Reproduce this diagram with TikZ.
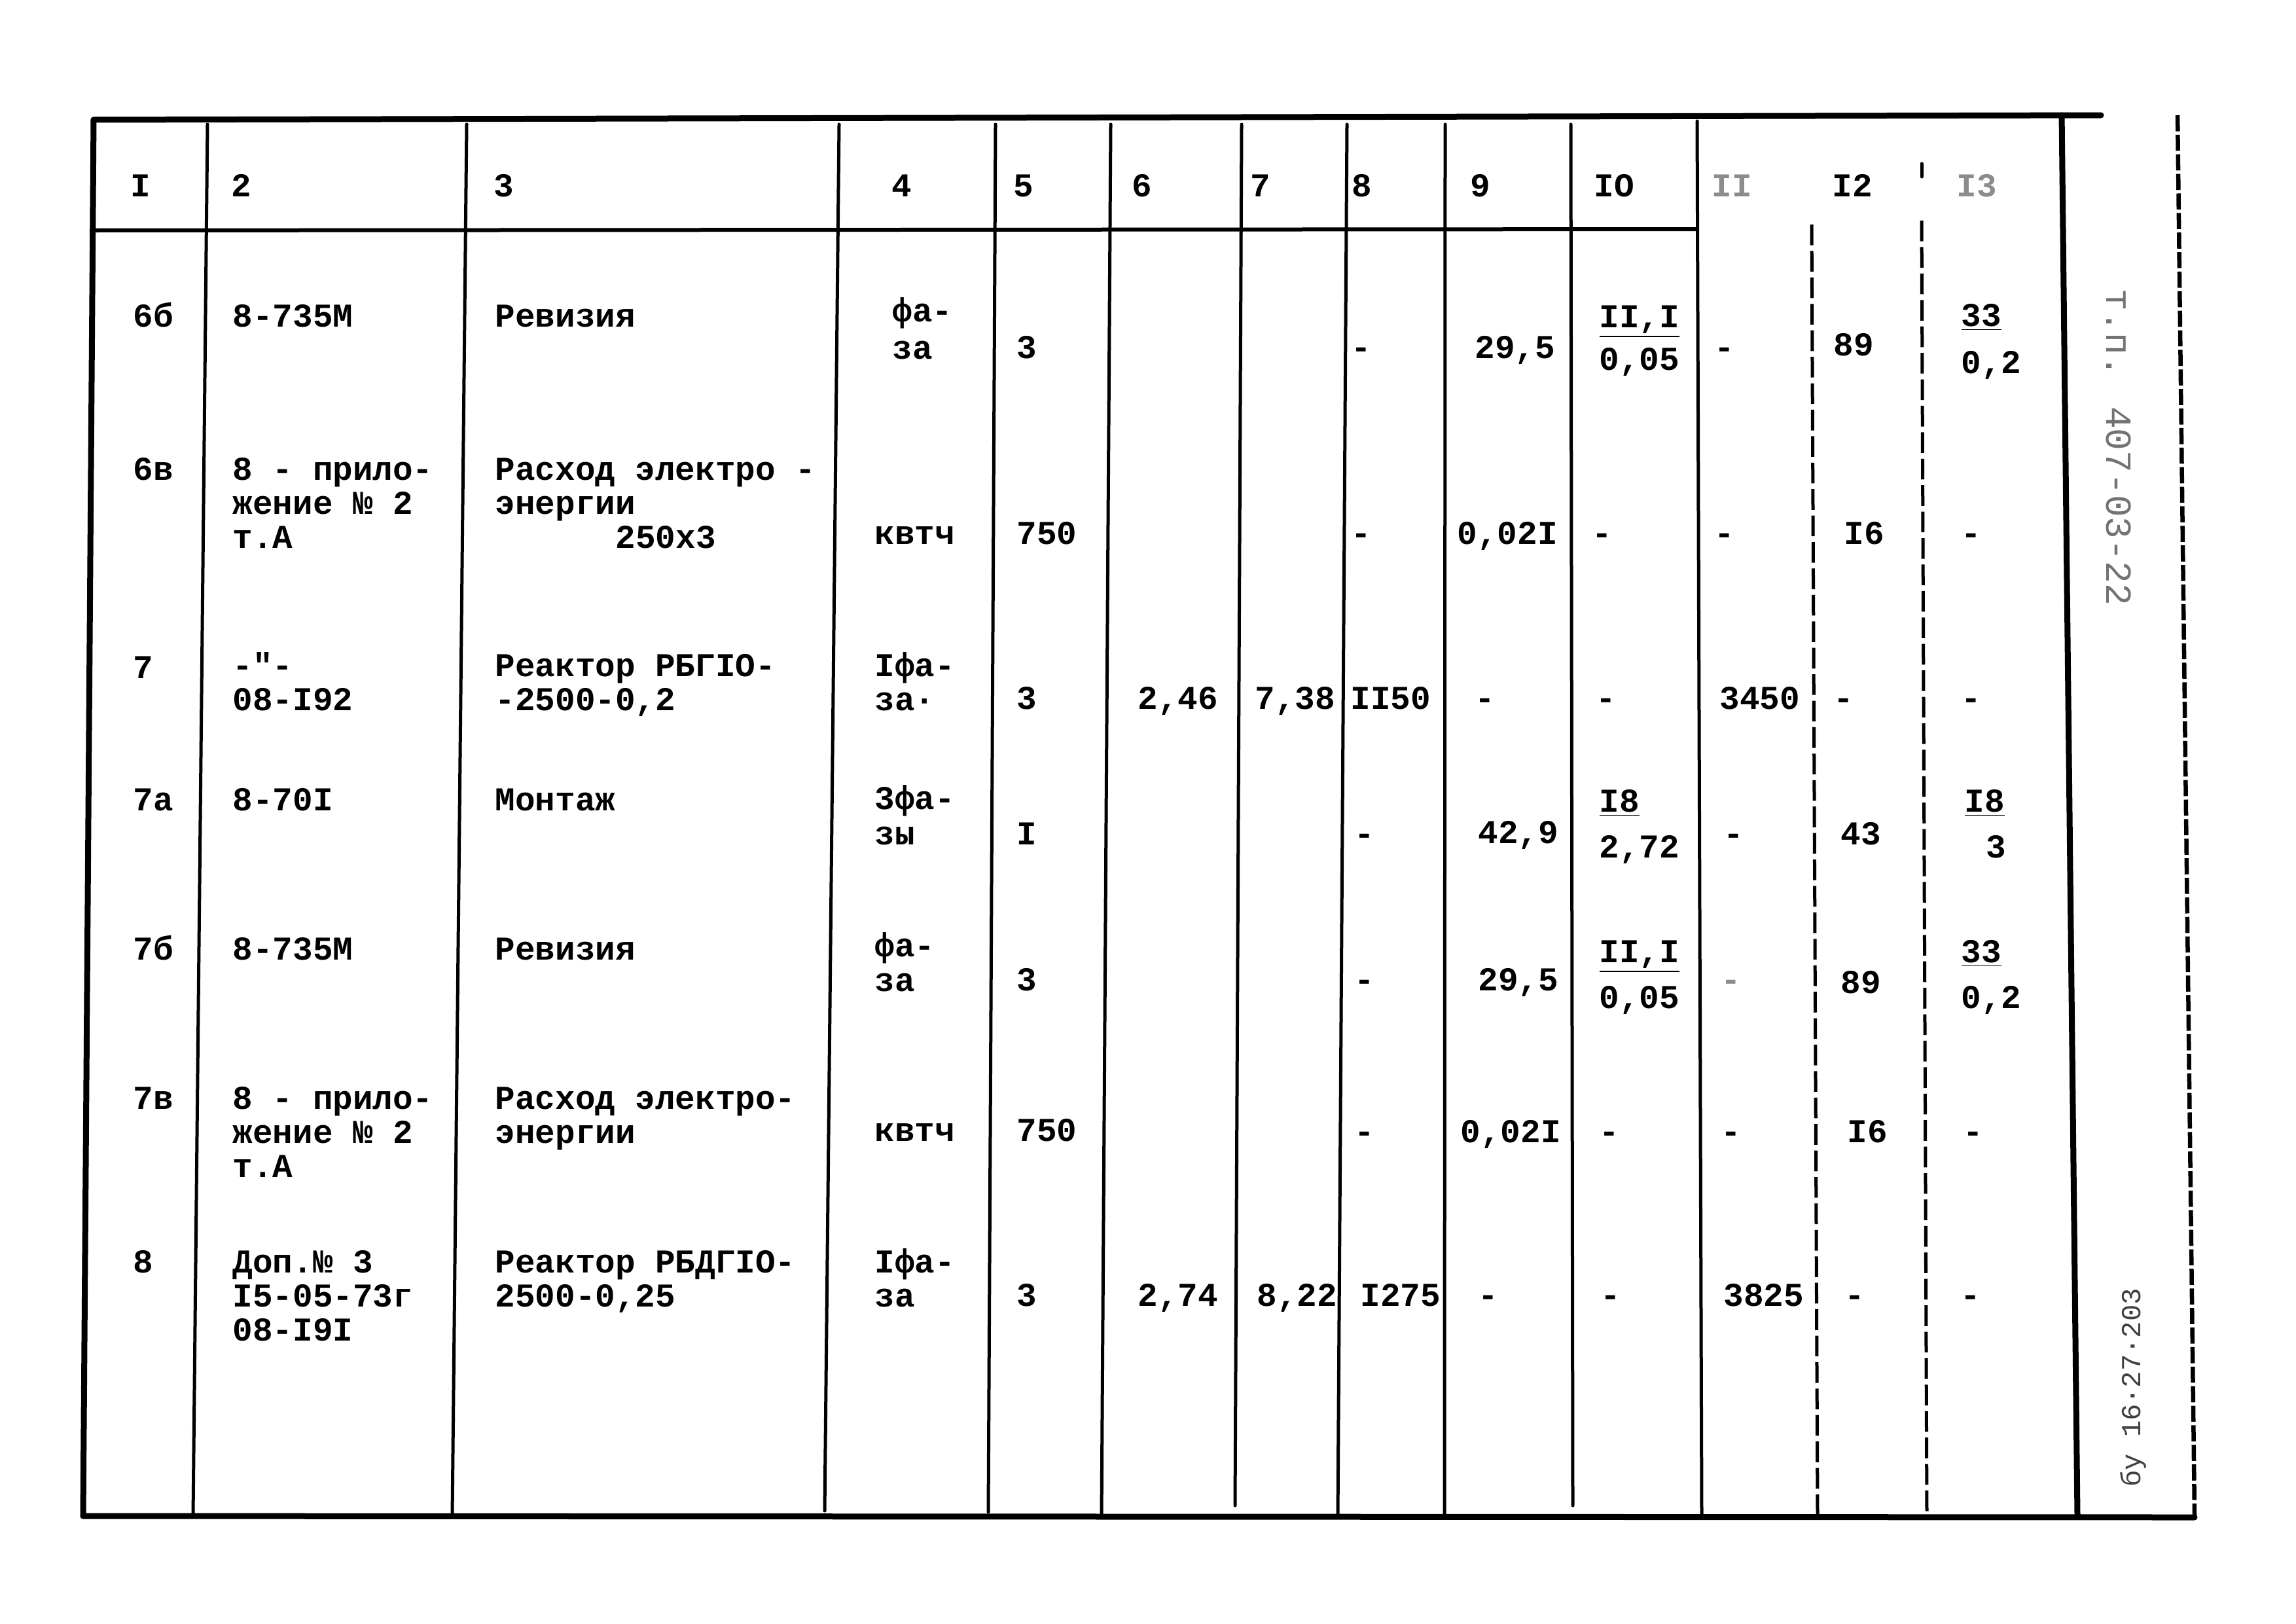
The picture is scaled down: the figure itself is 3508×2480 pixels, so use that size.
\documentclass[tikz,border=0pt]{standalone}
\usepackage{fontspec}
\newfontfamily\tw{Liberation Mono Bold}
\newfontfamily\twr{Liberation Mono}
\tikzset{
  txt/.style={anchor=base west, inner sep=0pt, font=\tw\fontsize{14.5}{15}\selectfont},
  ctxt/.style={txt, anchor=base},
  hd/.style={ctxt},
  rulel/.style={line width=0.5mm, line cap=round},
  dashrule/.style={line width=0.5mm, dash pattern=on 9pt off 2.5pt},
  framel/.style={line width=0.9mm, line cap=round},
  stripl/.style={line width=0.65mm, dash pattern=on 7pt off 1.5pt},
  faint/.style={text=black!45},
}
\begin{document}
\begin{tikzpicture}[x=0.1mm, y=-0.1mm]
\useasboundingbox (0,0) rectangle (3508,2480);
\fill[white] (0,0) rectangle (3508,2480);

% ---- frame ----
\draw[framel] (143,183) -- (3210,176);
\draw[framel] (143,183) -- (127,2316);
\draw[framel] (127,2316) -- (3353,2318);
\draw[framel] (3150,176) -- (3174,2316);
\draw[stripl] (3327,176) -- (3353,2316);
% header separator
\draw[line width=0.6mm] (143,352) -- (2595,350);
% column rules
\draw[rulel] (317,190) -- (295,2316);
\draw[rulel] (713,190) -- (691,2316);
\draw[rulel] (1282,190) -- (1260,2308);
\draw[rulel] (1521,190) -- (1510,2310);
\draw[rulel] (1697,190) -- (1683,2316);
\draw[rulel] (1897,190) -- (1887,2300);
\draw[rulel] (2058,190) -- (2044,2316);
\draw[rulel] (2208,190) -- (2207,2316);
\draw[rulel] (2400,190) -- (2403,2300);
\draw[rulel] (2593,185) -- (2600,2316);
\draw[dashrule] (2768,343) -- (2777,2316);
\draw[dashrule] (2936,337) -- (2944,2316);
\draw[rulel] (2936,250) -- (2936,270);

% ---- header ----
\node[hd] (h1) at (215,300) {I};
\node[hd] (h2) at (369,300) {2};
\node[hd] (h3) at (770,300) {3};
\node[hd] (h4) at (1378,300) {4};
\node[hd] (h5) at (1564,300) {5};
\node[hd] (h6) at (1745,300) {6};
\node[hd] (h7) at (1926,300) {7};
\node[hd] (h8) at (2081,300) {8};
\node[hd] (h9) at (2262,300) {9};
\node[hd] (h10) at (2466,300) {IO};
\node[hd,faint] (h11) at (2646,300) {II};
\node[hd] (h12) at (2830,300) {I2};
\node[hd,faint] (h13) at (3020,300) {I3};

% ---- row 6б ----
\node[txt] (a1) at (203,499) {6б};
\node[txt] (a2) at (355,499) {8-735M};
\node[txt] (a3) at (756,499) {Ревизия};
\node[txt] (a4) at (1363,491) {фа-};
\node[txt] (a4b) at (1363,548) {за};
\node[txt] (a5) at (1553,547) {3};
\node[ctxt] (a8) at (2080,547) {-};
\node[txt] (a9) at (2253,547) {29,5};
\node[txt] (a10) at (2443,500) {\underline{II,I}};
\node[txt] (a10b) at (2443,565) {0,05};
\node[ctxt] (a11) at (2635,547) {-};
\node[txt] (a12) at (2801,543) {89};
\node[txt] (a13) at (2996,498) {\underline{33}};
\node[txt] (a13b) at (2996,570) {0,2};

% ---- row 6в ----
\node[txt] (b1) at (203,733) {6в};
\node[txt] (b2) at (355,733) {8 - прило-};
\node[txt] (b2b) at (355,785) {жение № 2};
\node[txt] (b2c) at (355,837) {т.А};
\node[txt] (b3) at (756,733) {Расход электро -};
\node[txt] (b3b) at (756,785) {энергии};
\node[txt] (b3c) at (940,837) {250х3};
\node[txt] (b4) at (1336,831) {квтч};
\node[txt] (b5) at (1553,831) {750};
\node[ctxt] (b8) at (2080,831) {-};
\node[txt] (b9) at (2226,831) {0,02I};
\node[ctxt] (b10) at (2448,831) {-};
\node[ctxt] (b11) at (2635,831) {-};
\node[txt] (b12) at (2817,831) {I6};
\node[ctxt] (b13) at (3012,831) {-};

% ---- row 7 ----
\node[txt] (c1) at (203,1036) {7};
\node[txt] (c2) at (355,1033) {-"-};
\node[txt] (c2b) at (355,1085) {08-I92};
\node[txt] (c3) at (756,1033) {Реактор РБГIO-};
\node[txt] (c3b) at (756,1085) {-2500-0,2};
\node[txt] (c4) at (1336,1033) {Iфа-};
\node[txt] (c4b) at (1336,1085) {за·};
\node[txt] (c5) at (1553,1083) {3};
\node[txt] (c6) at (1738,1083) {2,46};
\node[txt] (c7) at (1917,1083) {7,38};
\node[txt] (c8) at (2063,1083) {II50};
\node[ctxt] (c9) at (2269,1083) {-};
\node[ctxt] (c10) at (2454,1083) {-};
\node[txt] (c11) at (2627,1083) {3450};
\node[ctxt] (c12) at (2817,1083) {-};
\node[ctxt] (c13) at (3012,1083) {-};

% ---- row 7а ----
\node[txt] (d1) at (203,1238) {7а};
\node[txt] (d2) at (355,1238) {8-70I};
\node[txt] (d3) at (756,1238) {Монтаж};
\node[txt] (d4) at (1336,1236) {3фа-};
\node[txt] (d4b) at (1336,1290) {зы};
\node[txt] (d5) at (1553,1290) {I};
\node[ctxt] (d8) at (2085,1290) {-};
\node[txt] (d9) at (2258,1288) {42,9};
\node[txt] (d10) at (2443,1240) {\underline{I8}};
\node[txt] (d10b) at (2443,1310) {2,72};
\node[ctxt] (d11) at (2649,1290) {-};
\node[txt] (d12) at (2812,1290) {43};
\node[txt] (d13) at (3001,1240) {\underline{I8}};
\node[txt] (d13b) at (3034,1310) {3};

% ---- row 7б ----
\node[txt] (e1) at (203,1466) {7б};
\node[txt] (e2) at (355,1466) {8-735M};
\node[txt] (e3) at (756,1466) {Ревизия};
\node[txt] (e4) at (1336,1461) {фа-};
\node[txt] (e4b) at (1336,1514) {за};
\node[txt] (e5) at (1553,1513) {3};
\node[ctxt] (e8) at (2085,1513) {-};
\node[txt] (e9) at (2258,1513) {29,5};
\node[txt] (e10) at (2443,1470) {\underline{II,I}};
\node[txt] (e10b) at (2443,1540) {0,05};
\node[ctxt,faint] (e11) at (2645,1513) {-};
\node[txt] (e12) at (2812,1517) {89};
\node[txt] (e13) at (2996,1470) {\underline{33}};
\node[txt] (e13b) at (2996,1540) {0,2};

% ---- row 7в ----
\node[txt] (f1) at (203,1694) {7в};
\node[txt] (f2) at (355,1694) {8 - прило-};
\node[txt] (f2b) at (355,1746) {жение № 2};
\node[txt] (f2c) at (355,1798) {т.А};
\node[txt] (f3) at (756,1694) {Расход электро-};
\node[txt] (f3b) at (756,1746) {энергии};
\node[txt] (f4) at (1336,1743) {квтч};
\node[txt] (f5) at (1553,1743) {750};
\node[ctxt] (f8) at (2085,1745) {-};
\node[txt] (f9) at (2231,1745) {0,02I};
\node[ctxt] (f10) at (2459,1745) {-};
\node[ctxt] (f11) at (2645,1745) {-};
\node[txt] (f12) at (2822,1745) {I6};
\node[ctxt] (f13) at (3015,1745) {-};

% ---- row 8 ----
\node[txt] (g1) at (203,1944) {8};
\node[txt] (g2) at (355,1944) {Доп.№ 3};
\node[txt] (g2b) at (355,1996) {I5-05-73г};
\node[txt] (g2c) at (355,2048) {08-I9I};
\node[txt] (g3) at (756,1944) {Реактор РБДГIO-};
\node[txt] (g3b) at (756,1996) {2500-0,25};
\node[txt] (g4) at (1336,1944) {Iфа-};
\node[txt] (g4b) at (1336,1996) {за};
\node[txt] (g5) at (1553,1995) {3};
\node[txt] (g6) at (1738,1995) {2,74};
\node[txt] (g7) at (1920,1995) {8,22};
\node[txt] (g8) at (2078,1995) {I275};
\node[ctxt] (g9) at (2274,1995) {-};
\node[ctxt] (g10) at (2461,1995) {-};
\node[txt] (g11) at (2633,1995) {3825};
\node[ctxt] (g12) at (2834,1995) {-};
\node[ctxt] (g13) at (3011,1995) {-};

% ---- side strip ----
\node[inner sep=0pt, rotate=-90, text=black!55, font=\twr\fontsize{16}{15}\selectfont] (s1) at (3237,683) {т.п. 407-03-22};
\node[inner sep=0pt, rotate=90, text=black!75, font=\twr\fontsize{12}{13}\selectfont] (s2) at (3259,2120) {бу 16·27·203};
\end{tikzpicture}
\end{document}
